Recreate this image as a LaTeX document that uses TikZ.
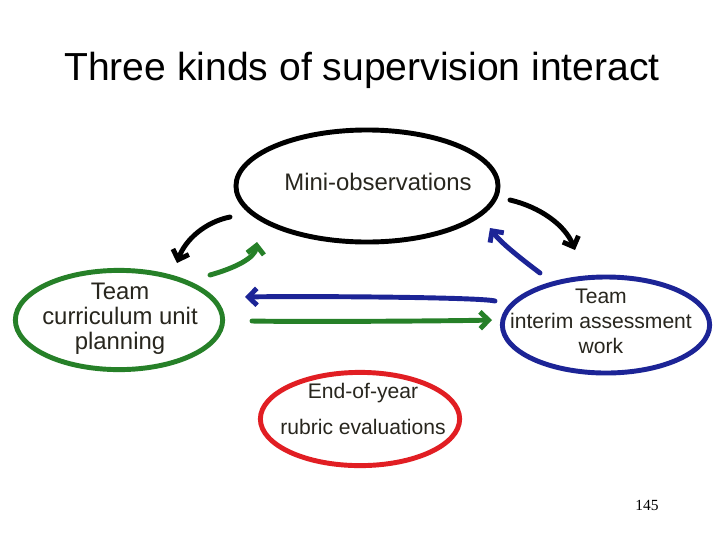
\documentclass[tikz,border=0pt]{standalone}
\usepackage{fontspec}
\setmainfont{Liberation Sans}
\newfontfamily\pagenumfont{Liberation Serif}
\usetikzlibrary{shapes.geometric,arrows.meta}
\definecolor{pgreen}{RGB}{38,128,40}
\definecolor{pblue}{RGB}{28,36,150}
\definecolor{pred}{RGB}{225,30,35}
\definecolor{ink}{RGB}{40,38,30}
\begin{document}
\begin{tikzpicture}[x=0.025cm,y=-0.025cm,
  bub/.style={ellipse, line width=3.5pt, inner sep=0pt},
  lbl/.style={text=ink, align=center, inner sep=0pt},
  arr/.style={line width=3.5pt, line cap=round, -{Straight Barb[length=6pt,width=12pt]}}]
\useasboundingbox (0,0) rectangle (720,540);
\fill[white] (0,0) rectangle (720,540);
\node (title) at (362,70) {\fontsize{27.8}{32}\selectfont Three kinds of supervision interact};
\node[bub, draw=black, minimum width=6.55cm, minimum height=2.8cm] (mini) at (367,186) {};
\node[bub, draw=pgreen, minimum width=5.18cm, minimum height=2.48cm] (cur) at (119,320) {};
\node[bub, draw=pblue, minimum width=5.18cm, minimum height=2.4cm] (int) at (606,325) {};
\node[bub, draw=pred, minimum width=4.98cm, minimum height=2.33cm] (eoy) at (360,419) {};
\node[lbl, font=\fontsize{17}{18}\selectfont] (minit) at (378,182) {Mini-observations};
\node[lbl, font=\fontsize{17}{17.7}\selectfont] (curt) at (120,319) {Team\\curriculum unit\\planning};
\node[lbl, font=\fontsize{15}{17.7}\selectfont] (intt) at (601,321) {Team\\interim assessment\\work};
\node[lbl, font=\fontsize{15}{25.5}\selectfont] (eoyt) at (363,409) {End-of-year\\rubric evaluations};
\node[font=\pagenumfont\fontsize{11}{13}\selectfont] (pg) at (647,505) {145};
% arrow end points
\coordinate (a1s) at (230,217); \coordinate (a1e) at (177,263);
\coordinate (a2s) at (210,275); \coordinate (a2e) at (257,242);
\coordinate (a3s) at (510,200); \coordinate (a3e) at (575,250);
\coordinate (a4s) at (540,273); \coordinate (a4e) at (490,228);
\coordinate (a5s) at (495,301); \coordinate (a5e) at (245,297);
\coordinate (a6s) at (252,321); \coordinate (a6e) at (492,320);
\draw[arr, black] (a1s) .. controls (205,222) and (185,240) .. (a1e);
\draw[arr, pgreen] (a2s) .. controls (235,268) and (255,258) .. (a2e);
\draw[arr, black] (a3s) .. controls (540,207) and (565,225) .. (a3e);
\draw[arr, pblue] (a4s) .. controls (520,258) and (500,242) .. (a4e);
\draw[arr, pblue] (a5s) .. controls (480,297) and (300,296) .. (a5e);
\draw[arr, pgreen] (a6s) .. controls (300,322) and (450,321) .. (a6e);
\end{tikzpicture}
\end{document}
